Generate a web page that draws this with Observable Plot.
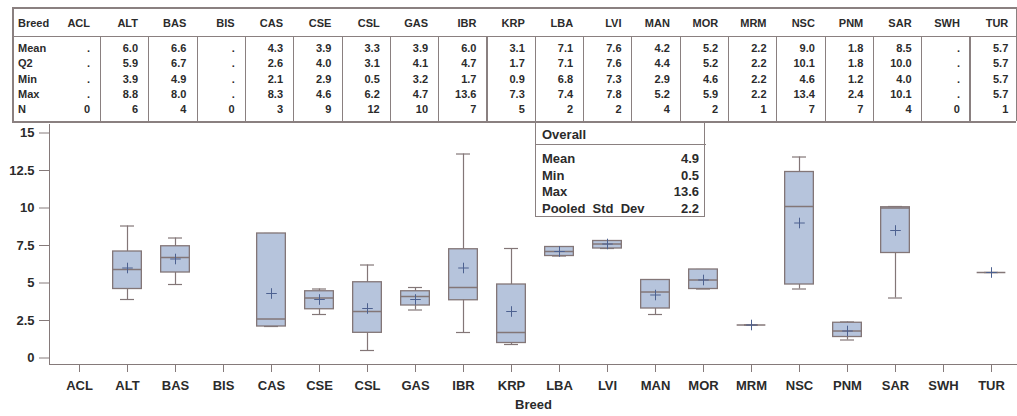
<!DOCTYPE html>
<html><head><meta charset="utf-8">
<script src="https://cdn.jsdelivr.net/npm/d3@7"></script>
<script src="https://cdn.jsdelivr.net/npm/@observablehq/plot@0.6"></script>
<style>
html,body{margin:0;padding:0;background:#fff;}
#wrap{position:relative;width:1017px;height:416px;overflow:hidden;font-family:"Liberation Sans",Arial,sans-serif;font-weight:bold;color:#2b2b2b;}
.t{position:absolute;white-space:nowrap;line-height:1.15;}
.ln{position:absolute;background:#8a8080;}
#chart{position:absolute;left:0;top:122px;}
</style></head><body><div id="wrap"><div id="chart"></div></div>
<script>
// ---- data ----
const breeds = ["ACL","ALT","BAS","BIS","CAS","CSE","CSL","GAS","IBR","KRP","LBA","LVI","MAN","MOR","MRM","NSC","PNM","SAR","SWH","TUR"];
const meanVals = [null,6.0,6.6,null,4.3,3.9,3.3,3.9,6.0,3.1,7.1,7.6,4.2,5.2,2.2,9.0,1.8,8.5,null,5.7];
const q2Vals   = [null,5.9,6.7,null,2.6,4.0,3.1,4.1,4.7,1.7,7.1,7.6,4.4,5.2,2.2,10.1,1.8,10.0,null,5.7];
const minVals  = [null,3.9,4.9,null,2.1,2.9,0.5,3.2,1.7,0.9,6.8,7.3,2.9,4.6,2.2,4.6,1.2,4.0,null,5.7];
const maxVals  = [null,8.8,8.0,null,8.3,4.6,6.2,4.7,13.6,7.3,7.4,7.8,5.2,5.9,2.2,13.4,2.4,10.1,null,5.7];
const nVals    = [0,6,4,0,3,9,12,10,7,5,2,2,4,2,1,7,7,4,0,1];
const q1Vals   = [null,4.6,5.7,null,2.1,3.25,1.68,3.5,3.85,1.0,6.8,7.3,3.3,4.6,2.2,4.9,1.4,7.0,null,5.7];
const q3Vals   = [null,7.1,7.45,null,8.3,4.45,5.05,4.45,7.25,4.9,7.4,7.8,5.2,5.9,2.2,12.4,2.35,10.05,null,5.7];
const statLabels = ["Mean","Q2","Min","Max","N"];
const overallLabels = ["Mean","Min","Max","Pooled\u00a0\u00a0Std\u00a0\u00a0Dev"];
const overallVals = [4.9,0.5,13.6,2.2];
const yTicks = [0,2.5,5,7.5,10,12.5,15];

// ---- styles ----
const boxFill = "#b6c4dc";
const boxStroke = "#837677";
const meanColor = "#4d6190";
const axisColor = "#857a7a";
const textColor = "#2b2b2b";

const wrap = document.getElementById("wrap");
function txt(s, x, y, anchor, size) {
  const d = document.createElement("div");
  d.className = "t";
  d.textContent = s;
  d.style.left = x + "px";
  d.style.top = y + "px";
  d.style.fontSize = size + "px";
  d.style.transform = anchor === "end" ? "translate(-100%,-50%)" : "translate(0,-50%)";
  wrap.appendChild(d);
  return d;
}
function line(x, y, w, h) {
  const d = document.createElement("div");
  d.className = "ln";
  d.style.left = x + "px"; d.style.top = y + "px";
  d.style.width = w + "px"; d.style.height = h + "px";
  wrap.appendChild(d);
}

// ---- stats table ----
const tL = 12, tR = 1016, tT = 7, tB = 121, hdrY = 36;
line(tL, tT, tR - tL, 1.5); line(tL, tB, tR - tL, 1.5);
line(tL, tT, 1.5, tB - tT); line(tR, tT, 1.5, tB - tT);
line(tL, hdrY, tR - tL, 1.2);
for (let k = 0; k <= 18; k++) line(100 + 48.3 * k, hdrY, 1.2, tB - hdrY);
const rowYs = [48, 63, 79, 94, 109];
const colRight = i => i === 0 ? 90 : 138 + 48.35 * (i - 1);
txt("Breed", 18, 23, "start", 11);
breeds.forEach((b, i) => txt(b, colRight(i), 23, "end", 11));
const statArrays = [meanVals, q2Vals, minVals, maxVals, nVals];
statLabels.forEach((lab, r) => {
  txt(lab, 18, rowYs[r], "start", 11);
  breeds.forEach((b, i) => {
    const v = statArrays[r][i];
    const s = r === 4 ? String(v) : (v == null ? "." : v.toFixed(1));
    txt(s, colRight(i), rowYs[r], "end", 11);
  });
});

// ---- chart ----
const data = breeds.map((b, i) => ({breed: b, n: nVals[i], mean: meanVals[i], q1: q1Vals[i], q2: q2Vals[i], q3: q3Vals[i], min: minVals[i], max: maxVals[i]})).filter(d => d.n > 0);
const boxInset = 9.65, capInset = 17;
const chart = Plot.plot({
  width: 1017, height: 294,
  marginTop: 2, marginBottom: 52, marginLeft: 49, marginRight: 0,
  style: {fontFamily: '"Liberation Sans",Arial,sans-serif', fontSize: "13px", fontWeight: "bold", color: textColor, background: "transparent", overflow: "visible"},
  x: {type: "band", domain: breeds, range: [51.85, 1018.15], padding: 0},
  y: {domain: [-0.433, 15.567]},
  marks: [
    Plot.frame({anchor: "left", stroke: axisColor}),
    Plot.frame({anchor: "bottom", stroke: axisColor}),
    Plot.axisY({ticks: yTicks, tickSize: 10, tickPadding: 5, tickFormat: d => String(d), stroke: axisColor, fill: textColor, label: null}),
    Plot.axisX({tickSize: 8, tickPadding: 8, stroke: axisColor, fill: textColor, label: "Breed", labelAnchor: "center", labelOffset: 44, labelArrow: "none"}),
    Plot.ruleX(data, {x: "breed", y1: "min", y2: "max", stroke: boxStroke, strokeWidth: 1.2}),
    Plot.tickY(data, {x: "breed", y: "min", insetLeft: capInset, insetRight: capInset, stroke: boxStroke, strokeWidth: 1.2}),
    Plot.tickY(data, {x: "breed", y: "max", insetLeft: capInset, insetRight: capInset, stroke: boxStroke, strokeWidth: 1.2}),
    Plot.barY(data, {x: "breed", y1: "q1", y2: "q3", insetLeft: boxInset, insetRight: boxInset, fill: boxFill, stroke: boxStroke, strokeWidth: 1.3}),
    Plot.tickY(data, {x: "breed", y: "q2", insetLeft: boxInset, insetRight: boxInset, stroke: boxStroke, strokeWidth: 1.5}),
    Plot.dot(data, {x: "breed", y: "mean", symbol: "plus", r: 3.5, stroke: meanColor, strokeWidth: 1})
  ]
});
document.getElementById("chart").appendChild(chart);

// ---- overall inset ----
const ob = document.createElement("div");
ob.style.cssText = "position:absolute;left:535px;top:122px;width:170px;height:95px;border:1.5px solid #8a8080;background:#fff;box-sizing:border-box;";
wrap.appendChild(ob);
line(535, 144, 171, 1.2);
txt("Overall", 542, 135, "start", 13);
const oYs = [159, 175.7, 192.3, 209];
overallLabels.forEach((lab, i) => {
  txt(lab, 542, oYs[i], "start", 13);
  txt(overallVals[i].toFixed(1), 699, oYs[i], "end", 13);
});
</script></body></html>
